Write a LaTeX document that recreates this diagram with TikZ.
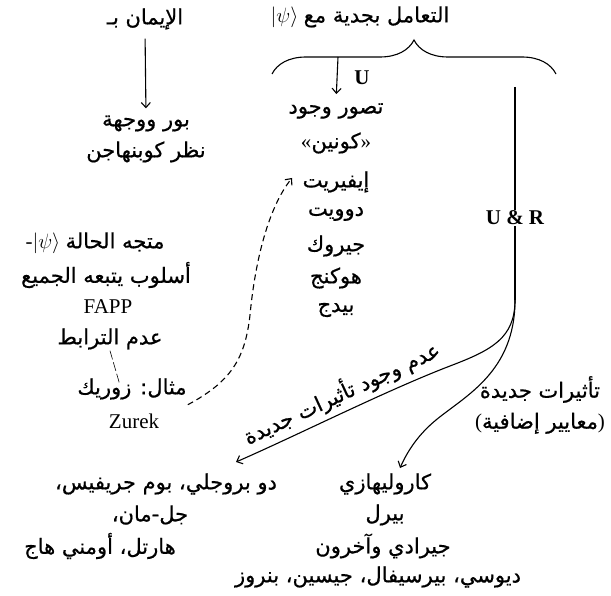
\documentclass[tikz,border=0pt]{standalone}
\usepackage{fontspec}
\setmainfont{Liberation Serif}
\newfontfamily\arabicfont[Script=Arabic,FakeBold=0.6]{DejaVu Sans}
\TeXXeTstate=1
\usetikzlibrary{arrows.meta,calc,decorations.pathreplacing}
\newcommand{\artxt}[1]{{\arabicfont\beginR #1\endR}}
\tikzset{
  flow/.style={-{Straight Barb[length=5pt,width=9pt]},line width=1.1pt},
  flowdash/.style={flow,dash pattern=on 6pt off 4pt},
  branch/.style={line width=1.1pt},
  tickline/.style={line width=0.6pt,dash pattern=on 9pt off 3pt},
  arlabel/.style={font=\fontsize{21}{31}\selectfont,align=center,inner sep=1pt},
  latinlabel/.style={font=\fontsize{21}{24}\selectfont,inner sep=1pt},
  boldlabel/.style={font=\fontsize{21}{24}\selectfont\bfseries,inner sep=1pt},
}
\begin{document}
\begin{tikzpicture}[x=1pt,y=-1pt]
  \useasboundingbox (0,0) rectangle (611,596);

  % left: faith in Bohr
  \node[arlabel] (faith) at (145,19) {\artxt{الإيمان بـ}};
  \node[arlabel] (bohr) at (146,139) {\artxt{بور ووجهة}\\\artxt{نظر كوبنهاجن}};
  \draw[flow,shorten <=8pt,shorten >=6pt] (faith.south) -- (bohr.north);

  % top: take the state seriously
  \node[arlabel] (title) at (360,17) {$|\psi\rangle$ \artxt{التعامل بجدية مع}};
  \coordinate (braceL) at (272,74);
  \coordinate (braceR) at (556,74);
  \draw[branch,decorate,decoration={brace,amplitude=34pt}] (braceL) -- (braceR);

  % U branch
  \coordinate (uTop) at (338,57);
  \node[boldlabel] (ulab) at (362,78) {U};
  \node[arlabel] (conc) at (336,111) {\artxt{تصور وجود}};
  \node[arlabel] (cohen) at (336,143) {«\artxt{كونين}»};
  \node[arlabel] (everett) at (336,182) {\artxt{إيفيريت}};
  \node[arlabel] (dewitt) at (336,214) {\artxt{دوويت}};
  \node[arlabel] (geroch) at (336,246) {\artxt{جيروك}};
  \node[arlabel] (hawking) at (336,278) {\artxt{هوكنج}};
  \node[arlabel] (page) at (336,310) {\artxt{بيدج}};
  \draw[flow,shorten >=8pt] (uTop) -- (conc.north);

  % left: decoherence
  \node[arlabel] (state) at (95,243) {-$|\psi\rangle$ \artxt{متجه الحالة}};
  \node[arlabel] (style) at (106,275) {\artxt{أسلوب يتبعه الجميع}};
  \node[latinlabel] (fapp) at (108,307) {FAPP};
  \node[arlabel] (decoh) at (110,339) {\artxt{عدم الترابط}};
  \node[arlabel] (zurekar) at (132,389) {\artxt{مثال: زوريك}};
  \node[latinlabel] (zurek) at (134,421) {Zurek};
  \draw[tickline] (decoh.south) -- ([xshift=-12pt,yshift=-8pt]zurekar.north);
  \coordinate (eveTip) at (292,178);
  \draw[flowdash] ([yshift=-4pt]zurekar.south east) .. controls (230,382) and (245,360) .. (250,315)
    .. controls (255,262) and (268,208) .. (eveTip);

  % U & R branch
  \coordinate (urTop) at (515,87);
  \node[boldlabel] (ur) at (515,218) {U \& R};
  \coordinate (split) at (515,300);
  \draw[branch] (urTop) -- (ur.north);
  \draw[branch] (ur.south) -- (split);
  \coordinate (noTip) at (236,462);
  \coordinate (yesTip) at (400,468);
  \draw[flow] (split) .. controls (515,338) and (492,350) .. (450,366)
    .. controls (385,391) and (300,434) .. (noTip)
    node[pos=0.47,sloped,above=4pt,arlabel] (noeff) {\artxt{عدم وجود تأثيرات جديدة}};
  \draw[flow] (split) .. controls (515,372) and (465,396) .. (436,420)
    .. controls (419,434) and (408,450) .. (yesTip);
  \node[arlabel] (neweff) at (540,405) {\artxt{تأثيرات جديدة}\\(\artxt{معايير إضافية})};

  % bottom: no new effects
  \node[arlabel] (dbb) at (166,484) {\artxt{دو بروجلي، بوم جريفيس،}};
  \node[arlabel] (gell) at (150,515) {\artxt{جل-مان،}};
  \node[arlabel] (hartle) at (100,546) {\artxt{هارتل، أومني هاج}};

  % bottom: new effects
  \node[arlabel] (karo) at (385,484) {\artxt{كاروليهازي}};
  \node[arlabel] (pearle) at (385,515) {\artxt{بيرل}};
  \node[arlabel] (ghirardi) at (383,546) {\artxt{جيرادي وآخرون}};
  \node[arlabel] (diosi) at (378,577) {\artxt{ديوسي، بيرسيفال، جيسين، بنروز}};
\end{tikzpicture}
\end{document}
